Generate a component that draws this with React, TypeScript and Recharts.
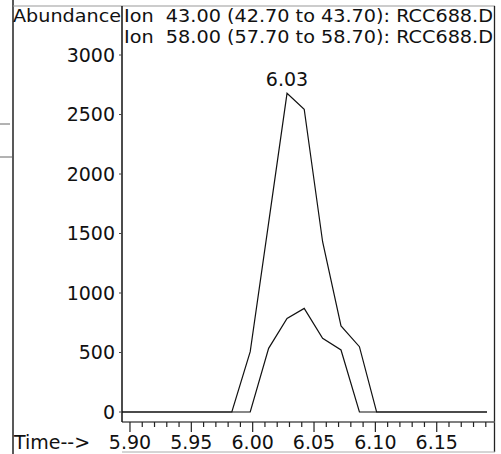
import React from 'react';
import { LineChart, Line, XAxis, YAxis, ReferenceDot, Customized } from 'recharts';

const times = [5.893, 5.908, 5.923, 5.938, 5.953, 5.968, 5.983, 5.998, 6.013, 6.028, 6.042, 6.057, 6.072, 6.087, 6.101, 6.116, 6.131, 6.146, 6.161, 6.176, 6.191];
const ion43 = [0, 0, 0, 0, 0, 0, 0, 507, 1590, 2678, 2544, 1431, 723, 549, 0, 0, 0, 0, 0, 0, 0];
const ion58 = [0, 0, 0, 0, 0, 0, 0, 0, 535, 787, 871, 619, 521, 0, 0, 0, 0, 0, 0, 0, 0];

const xTicks = [5.90, 5.91, 5.92, 5.93, 5.94, 5.95, 5.96, 5.97, 5.98, 5.99, 6.00, 6.01, 6.02, 6.03, 6.04, 6.05, 6.06, 6.07, 6.08, 6.09, 6.10, 6.11, 6.12, 6.13, 6.14, 6.15, 6.16, 6.17, 6.18, 6.19];
const xMajorLabels = ['5.90', '5.95', '6.00', '6.05', '6.10', '6.15'];
const yTicks = [0, 500, 1000, 1500, 2000, 2500, 3000];

const title1 = 'Ion  43.00 (42.70 to 43.70): RCC688.D';
const title2 = 'Ion  58.00 (57.70 to 58.70): RCC688.D';
const yTitle = 'Abundance';
const xTitle = 'Time-->';
const peakTime = 6.028;
const peakValue = 2678;
const peakLabel = '6.03';

const data = times.map((t, i) => ({ t, a: ion43[i], b: ion58[i] }));

const FONT = '"DejaVu Sans", sans-serif';

const XTick = (props: any) => {
  const { x, y, payload } = props;
  const label = Number(payload.value).toFixed(2);
  const major = xMajorLabels.includes(label);
  return (
    <g>
      <line x1={x} y1={y} x2={x} y2={y + (major ? 10 : 5)} stroke="#222" strokeWidth={1.2} />
      {major && (
        <text x={x} y={y + 27} textAnchor="middle" fontSize={19} fontFamily={FONT} fill="#111">
          {label}
        </text>
      )}
    </g>
  );
};

const Decor = () => (
  <g>
    <line x1={13} y1={0} x2={13} y2={454} stroke="#222" strokeWidth={1.5} />
    <line x1={13} y1={6} x2={495} y2={6} stroke="#999" strokeWidth={1} />
    <line x1={494.5} y1={6} x2={494.5} y2={452} stroke="#222" strokeWidth={1.3} />
    <line x1={122} y1={452} x2={495} y2={452} stroke="#aaa" strokeWidth={1} />
    <line x1={0} y1={124} x2={10} y2={124} stroke="#666" strokeWidth={1} />
    <line x1={0} y1={157} x2={12} y2={157} stroke="#666" strokeWidth={1} />
    <text x={13} y={21.5} fontSize={18.5} fontFamily={FONT} fill="#111" textLength={108} lengthAdjust="spacingAndGlyphs">{yTitle}</text>
    <text x={124} y={21.5} fontSize={18} fontFamily={FONT} fill="#111" style={{ whiteSpace: 'pre' }} textLength={369} lengthAdjust="spacingAndGlyphs">{title1}</text>
    <text x={124} y={42.5} fontSize={18} fontFamily={FONT} fill="#111" style={{ whiteSpace: 'pre' }} textLength={369} lengthAdjust="spacingAndGlyphs">{title2}</text>
    <text x={14} y={449} fontSize={19} fontFamily={FONT} fill="#111">{xTitle}</text>
  </g>
);

export default function App() {
  return (
    <div style={{ position: 'absolute', left: 0, top: 0, background: '#fff' }}>
      <LineChart width={501} height={454} data={data} margin={{ top: 6, right: 6, bottom: 0, left: 62 }}>
        <XAxis
          type="number"
          dataKey="t"
          domain={[5.8935, 6.1975]}
          ticks={xTicks}
          interval={0}
          allowDataOverflow
          tick={<XTick />}
          tickLine={false}
          tickSize={0}
          tickMargin={0}
          height={32}
          axisLine={{ stroke: '#555', strokeWidth: 1.5 }}
        />
        <YAxis
          type="number"
          domain={[-84, 3412]}
          ticks={yTicks}
          interval={0}
          allowDataOverflow
          width={60}
          tickSize={3}
          tickMargin={4}
          tickLine={{ stroke: '#444' }}
          axisLine={{ stroke: '#111', strokeWidth: 1.5 }}
          tick={{ fontSize: 19, fontFamily: FONT, fill: '#111' }}
        />
        <Line type="linear" dataKey="a" stroke="#111" strokeWidth={1.2} dot={false} isAnimationActive={false} />
        <Line type="linear" dataKey="b" stroke="#111" strokeWidth={1.2} dot={false} isAnimationActive={false} />
        <ReferenceDot
          x={peakTime}
          y={peakValue}
          r={0}
          stroke="none"
          fill="none"
          label={{ value: peakLabel, position: 'top', offset: 7, fontSize: 19, fontFamily: FONT, fill: '#111' }}
        />
        <Customized component={Decor} />
      </LineChart>
    </div>
  );
}
